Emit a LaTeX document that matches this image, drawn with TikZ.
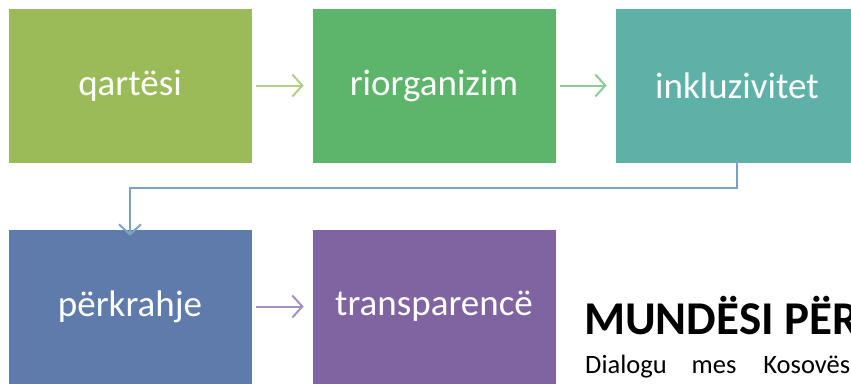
\documentclass[tikz,border=0pt]{standalone}
\usepackage{fontspec}
\setmainfont{Carlito}
\usetikzlibrary{arrows.meta}
\definecolor{cA}{HTML}{9BBB59}
\definecolor{cB}{HTML}{5CB56A}
\definecolor{cC}{HTML}{5EB1A7}
\definecolor{cD}{HTML}{5F7BAC}
\definecolor{cE}{HTML}{8064A2}
\definecolor{aA}{HTML}{B3CF85}
\definecolor{aB}{HTML}{8CCB9A}
\definecolor{aC}{HTML}{7DA3C3}
\definecolor{aD}{HTML}{A48FC2}
\tikzset{
  box/.style={draw=white, line width=0.6pt, minimum width=244pt, minimum height=155pt,
    inner sep=0pt, text=white, font=\fontsize{37}{42}\selectfont},
  flow/.style={line width=2pt, -{Straight Barb[length=10pt, width=22pt, line width=2pt]}}
}
\begin{document}
\begin{tikzpicture}[x=1pt, y=-1pt]
\useasboundingbox (0,0) rectangle (851,384);
\clip (0,0) rectangle (851,384);
\node[box, fill=cA] (b1) at (130,85.5) {qartësi};
\node[box, fill=cB] (b2) at (434,85.5) {riorganizim};
\node[box, fill=cC] (b3) at (737,85.5) {inkluzivitet};
\node[box, fill=cD] (b4) at (130,306.5) {përkrahje};
\node[box, fill=cE] (b5) at (434,306.5) {transparencë};
\draw[flow, aA] ([xshift=4pt]b1.east) -- ([xshift=-8pt]b2.west);
\draw[flow, aB] ([xshift=4pt]b2.east) -- ([xshift=-8pt]b3.west);
\draw[flow, aD] ([xshift=4pt]b4.east) -- ([xshift=-8pt]b5.west);
\coordinate (c1) at ([yshift=4pt]b3.south);
\coordinate (c2) at ([yshift=-7pt]b4.north);
\draw[flow, aC] (c1) -- ++(0,29) -| (c2);
\node[anchor=base west, inner sep=0pt, font=\fontsize{47}{52}\selectfont\bfseries] (t1) at (584,334) {MUNDËSI PËR};
\node[anchor=base west, inner sep=0pt, font=\fontsize{26.5}{30}\selectfont] (t2) at (585,373) {Dialogu\hspace{25pt}mes\hspace{27pt}Kosovës};
\end{tikzpicture}
\end{document}
